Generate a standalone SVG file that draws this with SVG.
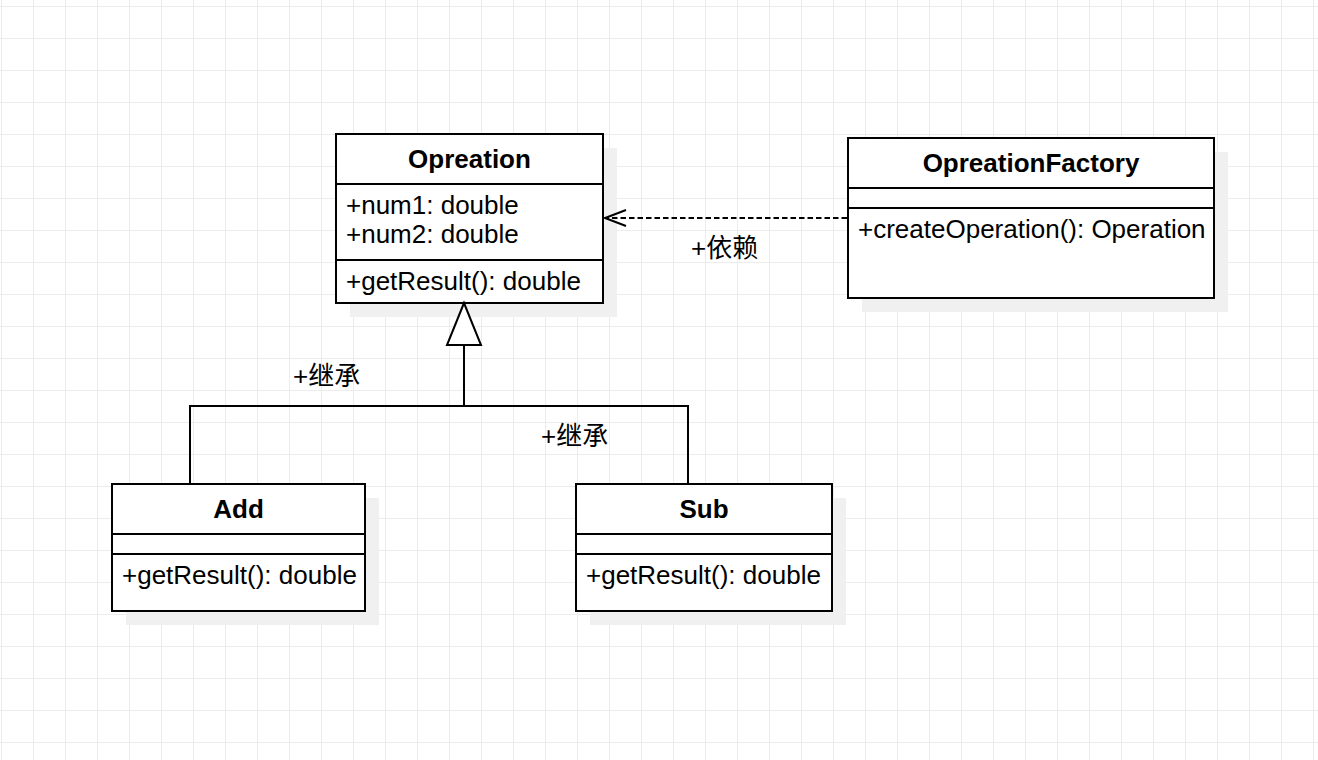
<svg xmlns="http://www.w3.org/2000/svg" width="1318" height="760" viewBox="0 0 1318 760">
<style>
.box{fill:#ffffff;stroke:#000000;stroke-width:2}
.shadow{fill:#f0f0f0;stroke:none}
.div{stroke:#000000;stroke-width:2}
.title{font-family:"Liberation Sans",Arial,sans-serif;font-size:26px;font-weight:bold;text-anchor:middle;fill:#000}
.member{font-family:"Liberation Sans",Arial,sans-serif;font-size:26px;fill:#000}
.label{font-family:"Liberation Sans","Noto Sans CJK SC",sans-serif;font-size:26px;fill:#000}
.edge{fill:none;stroke:#000;stroke-width:2}
</style>
<defs>
<pattern id="grid" x="1" y="6" width="32" height="32" patternUnits="userSpaceOnUse">
<path d="M0.5 0V32M0 0.5H32" fill="none" stroke="#ececec" stroke-width="1"/>
</pattern>
</defs>
<rect x="0" y="0" width="1318" height="760" fill="#ffffff"/>
<rect x="0" y="0" width="1318" height="760" fill="url(#grid)"/>

<g id="Opreation">
<rect class="shadow" x="350" y="148" width="267" height="169"/>
<rect class="box" x="336" y="134" width="267" height="169"/>
<line class="div" x1="336" y1="184" x2="603" y2="184"/>
<line class="div" x1="336" y1="260" x2="603" y2="260"/>
<text class="title" x="469.5" y="168">Opreation</text>
<text class="member" x="346" y="214">+num1: double</text>
<text class="member" x="346" y="243">+num2: double</text>
<text class="member" x="346" y="290">+getResult(): double</text>
</g>

<g id="OpreationFactory">
<rect class="shadow" x="862" y="152" width="366" height="160"/>
<rect class="box" x="848" y="138" width="366" height="160"/>
<line class="div" x1="848" y1="188" x2="1214" y2="188"/>
<line class="div" x1="848" y1="208" x2="1214" y2="208"/>
<text class="title" x="1031" y="172">OpreationFactory</text>
<text class="member" x="858" y="238">+createOperation(): Operation</text>
</g>

<g id="Add">
<rect class="shadow" x="126" y="498" width="253" height="127"/>
<rect class="box" x="112" y="484" width="253" height="127"/>
<line class="div" x1="112" y1="534" x2="365" y2="534"/>
<line class="div" x1="112" y1="554" x2="365" y2="554"/>
<text class="title" x="238.5" y="518">Add</text>
<text class="member" x="122" y="584">+getResult(): double</text>
</g>

<g id="Sub">
<rect class="shadow" x="590" y="498" width="256" height="127"/>
<rect class="box" x="576" y="484" width="256" height="127"/>
<line class="div" x1="576" y1="534" x2="832" y2="534"/>
<line class="div" x1="576" y1="554" x2="832" y2="554"/>
<text class="title" x="704" y="518">Sub</text>
<text class="member" x="586" y="584">+getResult(): double</text>
</g>

<g id="connectors">
<path class="edge" d="M190 484V406H688V484"/>
<path class="edge" d="M464 406V345"/>
<path class="edge" d="M464 303L447 345H481Z" fill="#ffffff" style="fill:#ffffff"/>
<path class="edge" d="M847 218H607" stroke-dasharray="5.5 3"/>
<path class="edge" d="M626 210L605 218L626 226"/>
<text class="label" x="691" y="257">+依赖</text>
<text class="label" x="293" y="385">+继承</text>
<text class="label" x="541" y="445">+继承</text>
</g>
</svg>
